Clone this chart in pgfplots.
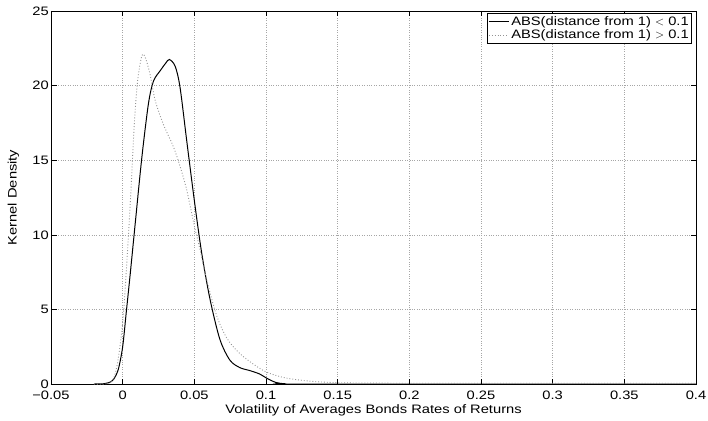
\documentclass[border=0pt]{standalone}
\usepackage{pgfplots}
\pgfplotsset{compat=1.18}
\usepackage{fontspec}
\setmainfont{Liberation Sans}[FakeStretch=1.2]
\begin{document}
\fontsize{12.3}{14}\selectfont
\begin{tikzpicture}[x=1bp,y=1bp]
\begin{axis}[
  at={(0,0)}, anchor=south west,
  scale only axis,
  width=645bp, height=373bp,
  xmin=-0.05, xmax=0.4, ymin=0, ymax=25,
  xtick={-0.05,0,0.05,0.1,0.15,0.2,0.25,0.3,0.35,0.4},
  xticklabels={−0.05,0,0.05,0.1,0.15,0.2,0.25,0.3,0.35,0.4},
  ytick={0,5,10,15,20,25},
  yticklabels={0,5,10,15,20,25},
  tick align=inside,
  tick pos=both,
  major tick length=5.5bp,
  grid=major,
  grid style={gray!70, dotted, line width=0.5pt},
  axis line style={line width=0.7pt},
  tick style={black, line width=0.5pt},
  xticklabel style={anchor=north, inner sep=0pt, yshift=-6.5bp},
  yticklabel style={anchor=east, inner sep=0pt, xshift=-2bp},
  xlabel={Volatility of Averages Bonds Rates of Returns},
  ylabel={Kernel Density},
  xlabel style={at={(axis description cs:0.5,0)}, anchor=center, yshift=-26bp},
  ylabel shift=9bp,
  legend style={at={(axis description cs:1,1)}, xshift=-4bp, yshift=-2bp, anchor=north east,
    draw=black, line width=0.6pt, inner sep=1bp, row sep=-1bp,
    font=\fontsize{12.3}{14}\selectfont},
  legend cell align=left,
  legend image code/.code={\draw[#1, line width=0.8pt] (0bp,0bp) -- (20bp,0bp);},
]
\addplot[black, line width=1pt, smooth] coordinates {
(-0.02,0) (-0.0132,0.02) (-0.009,0.12) (-0.0062,0.33) (-0.003,1.0) (0,2.5) (0.0025,4.8) (0.0053,7.4) (0.0088,10.8)
(0.0134,15.2) (0.018,18.8) (0.0215,20.3) (0.0262,21.0) (0.030,21.5) (0.0326,21.75) (0.0366,21.3)
(0.040,19.9) (0.0447,16.3) (0.050,12.3) (0.0551,8.8) (0.0609,5.7) (0.0678,3.0) (0.0748,1.6)
(0.0817,1.1) (0.0887,0.9) (0.0956,0.67) (0.1003,0.4) (0.107,0.1) (0.114,0.01) (0.125,0) (0.4,0)
};
\addlegendentry{ABS(distance from 1) $<$ 0.1}
\addplot[gray!85, dotted, line width=0.9pt, smooth] coordinates {
(-0.02,0) (-0.0085,0.1) (-0.004,1.2) (0,4.1) (0.003,8.3) (0.0058,13.0) (0.0081,17.4) (0.0104,20.3)
(0.0134,22.0) (0.0157,21.9) (0.019,20.8) (0.0227,19.0) (0.0284,17.4) (0.0354,15.9)
(0.040,14.6) (0.0447,13.0) (0.050,10.6) (0.054,9.0) (0.0586,7.0) (0.0655,4.6) (0.0725,3.1)
(0.0800,2.2) (0.0887,1.5) (0.1003,0.8) (0.114,0.4) (0.130,0.2) (0.146,0.1) (0.17,0.06) (0.22,0.05) (0.3,0.05) (0.4,0.05)
};
\addlegendentry{ABS(distance from 1) $>$ 0.1}
\end{axis}
\useasboundingbox (-51,-36) rectangle (657,384);
\end{tikzpicture}
\end{document}
